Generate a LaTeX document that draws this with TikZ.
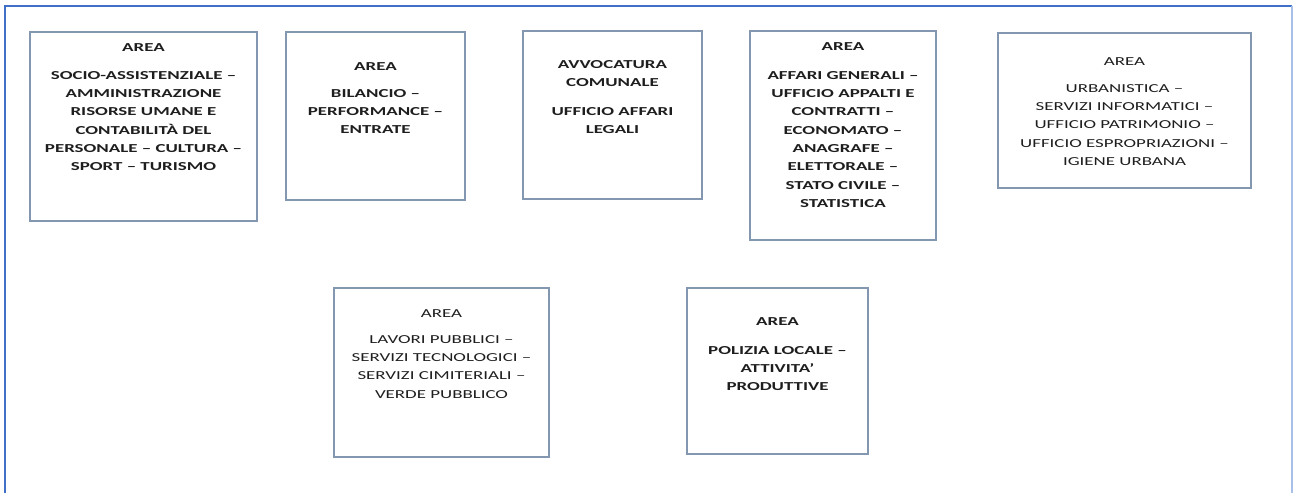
\documentclass[tikz,border=0pt]{standalone}
\usepackage{fontspec}
\setmainfont{Carlito}[FakeStretch=1.55]
\definecolor{framecol}{HTML}{3F6FC6}
\definecolor{frameright}{HTML}{A9C0E8}
\definecolor{boxcol}{HTML}{8497B0}
\definecolor{txtcol}{HTML}{1E1E1E}
\tikzset{
  areabox/.style={draw=boxcol, line width=1.4pt, fill=none},
  areatxt/.style={anchor=north, inner sep=0pt, outer sep=0pt, align=center, text=txtcol,
    font=\fontsize{12.2}{18.3}\selectfont},
  bf/.style={font=\fontsize{12.2}{18.3}\selectfont\bfseries}
}
\begin{document}
\begin{tikzpicture}[x=1pt,y=-1pt]
\useasboundingbox (0,0) rectangle (1293,493);
% frame
\coordinate (fbl) at (5,493);
\coordinate (ftl) at (5,6);
\coordinate (ftr) at (1292,6);
\coordinate (fbr) at (1292,493);
\draw[framecol, line width=2.8pt] (fbl) -- (ftl) -- (ftr);
\draw[frameright, line width=1.6pt] (ftr) -- (fbr);
% boxes
\draw[areabox] (30,32) rectangle (257,221) node[midway] (b1) {};
\draw[areabox] (286,32) rectangle (465,200) node[midway] (b2) {};
\draw[areabox] (523,31) rectangle (702,199) node[midway] (b3) {};
\draw[areabox] (750,31) rectangle (936,240) node[midway] (b4) {};
\draw[areabox] (998,33) rectangle (1251,188) node[midway] (b5) {};
\draw[areabox] (334,288) rectangle (549,457) node[midway] (b6) {};
\draw[areabox] (687,288) rectangle (868,454) node[midway] (b7) {};
% texts (north anchor = baseline - cap height)
\node[areatxt,bf] (t1a) at (143.5,43.3) {AREA};
\node[areatxt,bf] (t1b) at (143.5,71.3) {SOCIO-ASSISTENZIALE –\\AMMINISTRAZIONE\\RISORSE UMANE E\\CONTABILITÀ DEL\\PERSONALE – CULTURA –\\SPORT – TURISMO};
\node[areatxt,bf] (t2a) at (375.5,62.3) {AREA};
\node[areatxt,bf] (t2b) at (375.5,89.3) {BILANCIO –\\PERFORMANCE –\\ENTRATE};
\node[areatxt,bf] (t3a) at (612.5,60.3) {AVVOCATURA\\COMUNALE};
\node[areatxt,bf] (t3b) at (612.5,107.3) {UFFICIO AFFARI\\LEGALI};
\node[areatxt,bf] (t4a) at (843,42.3) {AREA};
\node[areatxt,bf] (t4b) at (843,71.3) {AFFARI GENERALI –\\UFFICIO APPALTI E\\CONTRATTI –\\ECONOMATO –\\ANAGRAFE –\\ELETTORALE –\\STATO CIVILE –\\STATISTICA};
\node[areatxt] (t5a) at (1124.5,57.3) {AREA};
\node[areatxt] (t5b) at (1124.5,84.3) {URBANISTICA –\\SERVIZI INFORMATICI –\\UFFICIO PATRIMONIO –\\UFFICIO ESPROPRIAZIONI –\\IGIENE URBANA};
\node[areatxt] (t6a) at (441.5,309.3) {AREA};
\node[areatxt] (t6b) at (441.5,335.3) {LAVORI PUBBLICI –\\SERVIZI TECNOLOGICI –\\SERVIZI CIMITERIALI –\\VERDE PUBBLICO};
\node[areatxt,bf] (t7a) at (777.5,317.3) {AREA};
\node[areatxt,bf] (t7b) at (777.5,346.3) {POLIZIA LOCALE –\\ATTIVITA’\\PRODUTTIVE};
\end{tikzpicture}
\end{document}
